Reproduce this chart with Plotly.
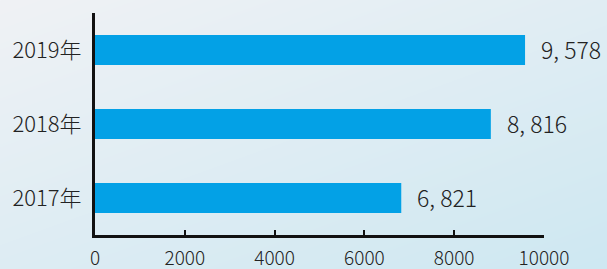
import base64, struct, zlib
import numpy as np
import plotly.graph_objects as go

years = ["2017年", "2018年", "2019年"]
values = [6821, 8816, 9578]
x_ticks = [0, 2000, 4000, 6000, 8000, 10000]

# soft background gradient (stand-in for the photo backdrop)
W, H = 607, 269
yy, xx = np.mgrid[0:H, 0:W]
t = np.clip(0.55 * yy / H + 0.45 * xx / W, 0, 1)[..., None]
c0 = np.array([240, 242, 245], float)
c1 = np.array([206, 232, 242], float)
img = (c0 * (1 - t) + c1 * t).astype(np.uint8)
raw = b"".join(b"\x00" + img[r].tobytes() for r in range(H))
def chunk(tag, data):
    return struct.pack(">I", len(data)) + tag + data + struct.pack(">I", zlib.crc32(tag + data) & 0xFFFFFFFF)
png = b"\x89PNG\r\n\x1a\n" + chunk(b"IHDR", struct.pack(">IIBBBBB", W, H, 8, 2, 0, 0, 0)) + \
      chunk(b"IDAT", zlib.compress(raw, 9)) + chunk(b"IEND", b"")
bg_uri = "data:image/png;base64," + base64.b64encode(png).decode()

FONT = "Noto Sans CJK SC"

fig = go.Figure(go.Bar(
    x=values, y=years, orientation="h",
    marker=dict(color="#03a1e6", line=dict(width=0)),
    width=0.405, hoverinfo="skip",
))

for y, v in zip(years, values):
    fig.add_annotation(x=v, y=y, yshift=1, text=f"{v:,}".replace(",", ", "),
                       showarrow=False, xanchor="left", xshift=14,
                       font=dict(family=FONT, size=23, color="#222222", weight=300))

fig.update_layout(
    width=607, height=269,
    margin=dict(l=95, r=63, t=13, b=34, autoexpand=False),
    paper_bgcolor="#e6edf2", plot_bgcolor="rgba(0,0,0,0)",
    showlegend=False,
    font=dict(family=FONT, color="#222222"),
)
fig.update_layout(images=[dict(source=bg_uri, xref="paper", yref="paper",
                               x=-95/449, y=1 + 13/222, sizex=607/449, sizey=269/222,
                               xanchor="left", yanchor="top", sizing="stretch", layer="below")])
fig.update_xaxes(range=[0, 10000], tickvals=x_ticks, ticktext=[str(v) for v in x_ticks],
                 showgrid=False, zeroline=False, automargin=False,
                 showline=True, linecolor="#111111", linewidth=3,
                 ticks="inside", ticklen=5, tickwidth=2, tickcolor="#111111",
                 tickfont=dict(family=FONT, size=19, color="#222222", weight=300),
                 ticklabelstandoff=4)
fig.update_yaxes(categoryorder="array", categoryarray=years, range=[-0.5, 2.5],
                 showgrid=False, zeroline=False, automargin=False,
                 showline=True, linecolor="#111111", linewidth=3,
                 ticks="", tickfont=dict(family=FONT, size=22, color="#222222", weight=300),
                 ticklabelstandoff=6)

fig.write_html("out.html", config={"displayModeBar": False, "staticPlot": True},
               post_script="document.body.style.margin='0';document.body.style.overflow='hidden';")
